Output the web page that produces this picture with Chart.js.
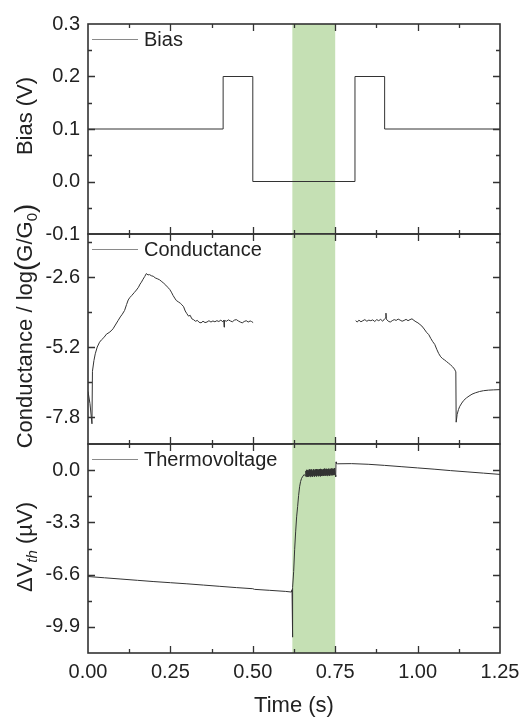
<!DOCTYPE html>
<html>
<head>
<meta charset="utf-8">
<title>Bias, conductance and thermovoltage vs time</title>
<script src="https://cdn.jsdelivr.net/npm/chart.js@4.4.1/dist/chart.umd.min.js"></script>
<style>
    html, body { margin: 0; padding: 0; background: #fff; }
    #wrap { position: relative; width: 524px; height: 720px; }
    #wrap canvas { position: absolute; left: 0; top: 0; }
</style>
</head>
<body>
<div id="wrap">
    <canvas id="biasChart" width="524" height="720"></canvas>
    <canvas id="condChart" width="524" height="720"></canvas>
    <canvas id="thermoChart" width="524" height="720"></canvas>
</div>
<script>
/// ==== Data ==== ///
const timeTicks = [0, 0.25, 0.5, 0.75, 1.0, 1.25];
const heatBand = [0.62, 0.75];

const biasTime = [0, 0.41, 0.5, 0.81, 0.9, 1.25];
const biasVolt = [0.1, 0.2, 0.0, 0.2, 0.1, 0.1];
const biasTicks = [-0.1, 0.0, 0.1, 0.2, 0.3];

const condTime = [
    0, 0.006, 0.012, 0.0135, 0.018, 0.022, 0.028, 0.035, 0.041, 0.048, 0.056, 0.064, 0.070, 0.076,
    0.083, 0.091, 0.098, 0.104, 0.111, 0.117, 0.122, 0.127, 0.133, 0.140, 0.147, 0.153, 0.158, 0.162,
    0.167, 0.172, 0.177, 0.182, 0.187, 0.192, 0.198, 0.204, 0.210, 0.217, 0.224, 0.230, 0.236, 0.242,
    0.248, 0.253, 0.258, 0.263, 0.268, 0.274, 0.280, 0.285, 0.290, 0.295, 0.300, 0.305, 0.310, 0.315,
    0.320, 0.326, 0.332, 0.337, 0.343, 0.349, 0.355, 0.361, 0.367, 0.373, 0.379, 0.385, 0.391, 0.397,
    0.403, 0.409, 0.412, 0.413, 0.414, 0.420, 0.426, 0.432, 0.438, 0.444, 0.450, 0.456, 0.462, 0.468,
    0.474, 0.480, 0.486, 0.492, 0.496, 0.501,
    0.65,
    0.812, 0.817, 0.822, 0.828, 0.834, 0.840, 0.846, 0.852, 0.858, 0.864, 0.870, 0.876, 0.882, 0.888,
    0.894, 0.900, 0.903, 0.904, 0.905, 0.911, 0.917, 0.923, 0.929, 0.935, 0.941, 0.947, 0.953, 0.959,
    0.965, 0.971, 0.977, 0.983, 0.989, 0.995, 1.001, 1.007, 1.013, 1.020, 1.027, 1.034, 1.040, 1.046,
    1.052, 1.058, 1.064, 1.070, 1.076, 1.082, 1.088, 1.094, 1.100, 1.106, 1.112, 1.116, 1.117, 1.120,
    1.124, 1.128, 1.134, 1.140, 1.148, 1.156, 1.165, 1.175, 1.188, 1.200, 1.215, 1.230, 1.250
];
const condLog = [
    -6.85, -7.30, -8.05, -6.10, -5.70, -5.45, -5.20, -5.02, -4.93, -4.85, -4.72, -4.66, -4.60, -4.52,
    -4.38, -4.22, -4.08, -3.98, -3.84, -3.62, -3.45, -3.36, -3.28, -3.18, -3.08, -2.98, -2.86, -2.79,
    -2.68, -2.58, -2.47, -2.52, -2.51, -2.55, -2.57, -2.63, -2.66, -2.70, -2.77, -2.83, -2.90, -2.98,
    -3.06, -3.16, -3.28, -3.38, -3.47, -3.52, -3.57, -3.63, -3.70, -3.86, -3.96, -4.05, -4.02, -4.15,
    -4.18, -4.24, -4.21, -4.28, -4.30, -4.24, -4.29, -4.27, -4.22, -4.27, -4.23, -4.26, -4.22, -4.25,
    -4.20, -4.26, -4.20, -4.46, -4.21, -4.24, -4.19, -4.23, -4.26, -4.20, -4.18, -4.23, -4.27, -4.30,
    -4.25, -4.22, -4.27, -4.23, -4.25, -4.29,
    null,
    -4.22, -4.27, -4.20, -4.26, -4.22, -4.18, -4.24, -4.20, -4.22, -4.19, -4.25, -4.18, -4.22, -4.17,
    -4.24, -4.15, -4.12, -3.94, -4.16, -4.24, -4.27, -4.22, -4.18, -4.21, -4.16, -4.20, -4.24, -4.21,
    -4.17, -4.22, -4.18, -4.15, -4.21, -4.26, -4.30, -4.36, -4.42, -4.53, -4.65, -4.74, -4.88, -5.00,
    -5.10, -5.28, -5.44, -5.56, -5.63, -5.68, -5.74, -5.80, -5.86, -5.93, -6.02, -6.12, -7.99, -7.70,
    -7.52, -7.40, -7.28, -7.18, -7.09, -7.02, -6.95, -6.90, -6.85, -6.82, -6.80, -6.79, -6.78
];
const condTicks = [-2.6, -5.2, -7.8];

const thermoTime = [
    0, 0.05, 0.10, 0.15, 0.20, 0.25, 0.30, 0.35, 0.40, 0.45, 0.50, 0.505, 0.55, 0.60, 0.617,
    0.619, 0.620, 0.6215, 0.624, 0.627, 0.630, 0.633, 0.636, 0.639, 0.642, 0.645, 0.648, 0.652, 0.656,
    0.660, 0.661, 0.662, 0.663, 0.664, 0.665, 0.666, 0.667, 0.668, 0.669,
    0.670, 0.671, 0.672, 0.673, 0.674, 0.675, 0.676, 0.677, 0.678, 0.679,
    0.680, 0.681, 0.682, 0.683, 0.684, 0.685, 0.686, 0.687, 0.688, 0.689,
    0.690, 0.691, 0.692, 0.693, 0.694, 0.695, 0.696, 0.697, 0.698, 0.699,
    0.700, 0.701, 0.702, 0.703, 0.704, 0.705, 0.706, 0.707, 0.708, 0.709,
    0.710, 0.711, 0.712, 0.713, 0.714, 0.715, 0.716, 0.717, 0.718, 0.719,
    0.720, 0.721, 0.722, 0.723, 0.724, 0.725, 0.726, 0.727, 0.728, 0.729,
    0.730, 0.731, 0.732, 0.733, 0.734, 0.735, 0.736, 0.737, 0.738, 0.739,
    0.740, 0.741, 0.742, 0.743, 0.744, 0.745, 0.746, 0.747, 0.748, 0.749,
    0.750,
    0.7515, 0.7525, 0.754, 0.757, 0.80, 0.85, 0.90, 0.95, 1.00, 1.05, 1.10, 1.15, 1.20, 1.25
];
const thermoVolt = [
    -6.72, -6.80, -6.88, -6.96, -7.04, -7.11, -7.18, -7.26, -7.34, -7.42, -7.49, -7.53, -7.59, -7.66, -7.70,
    -7.55, -10.55, -7.40, -6.40, -5.00, -3.90, -2.95, -2.30, -1.60, -1.05, -0.72, -0.52, -0.38, -0.28,
    -0.38, -0.05, -0.41, 0.02, -0.36, -0.08, -0.43, 0.01, -0.35, -0.03,
    -0.40, 0.04, -0.37, -0.06, -0.42, 0.03, -0.33, -0.01, -0.39, 0.05,
    -0.36, -0.04, -0.41, 0.02, -0.34, 0.06, -0.38, -0.02, -0.40, 0.04,
    -0.35, 0.01, -0.37, 0.07, -0.39, -0.03, -0.33, 0.05, -0.38, 0.02,
    -0.36, 0.06, -0.34, -0.01, -0.39, 0.08, -0.32, 0.03, -0.37, 0.05,
    -0.35, 0.00, -0.31, 0.07, -0.36, 0.04, -0.33, 0.09, -0.35, 0.02,
    -0.30, 0.06, -0.34, 0.08, -0.32, 0.03, -0.36, 0.07, -0.29, 0.05,
    -0.33, 0.10, -0.31, 0.04, -0.35, 0.08, -0.28, 0.06, -0.32, 0.11,
    -0.30, 0.05, -0.33, 0.09, -0.27, 0.07, -0.31, 0.12, -0.29, 0.06,
    -0.30,
    -0.42, 0.52, 0.42, 0.40, 0.41, 0.37, 0.30, 0.22, 0.14, 0.06, -0.03, -0.11, -0.19, -0.27
];
const thermoTicks = [0.0, -3.3, -6.6, -9.9];

/// ==== Shared look ==== ///
const FONT = "'Liberation Sans', Arial, sans-serif";
const INK = '#222';
const LINE = '#333';
Chart.defaults.font.family = FONT;
Chart.defaults.color = INK;

const toPoints = (xs, ys) => xs.map((x, i) => ({ x: x, y: ys[i] }));

// draws a rotated axis title made of runs (plain, italic, subscript, big brackets)
function drawRichTitle(ctx, runs, cx, cy) {
    ctx.save();
    ctx.translate(cx, cy);
    ctx.rotate(-Math.PI / 2);
    ctx.fillStyle = INK;
    ctx.textBaseline = 'alphabetic';
    let total = 0;
    runs.forEach(r => {
        ctx.font = (r.italic ? 'italic ' : '') + (r.size || 22) + 'px ' + FONT;
        r.w = ctx.measureText(r.t).width;
        total += r.w;
    });
    let x = -total / 2;
    runs.forEach(r => {
        ctx.font = (r.italic ? 'italic ' : '') + (r.size || 22) + 'px ' + FONT;
        ctx.fillText(r.t, x, 8 + (r.dy || 0));
        x += r.w;
    });
    ctx.restore();
}

/// ==== Panel plugin: green band, frame, inward ticks, legend, y title ==== ///
const panelPlugin = {
    id: 'panel',
    beforeDatasetsDraw(chart) {
        const { ctx, chartArea: a, scales: { x } } = chart;
        const x0 = x.getPixelForValue(heatBand[0]);
        const x1 = x.getPixelForValue(heatBand[1]);
        ctx.save();
        ctx.fillStyle = '#c5e0b4';
        ctx.fillRect(x0, a.top, x1 - x0, a.bottom - a.top);
        ctx.restore();
    },
    afterDatasetsDraw(chart, args, opts) {
        const { ctx, chartArea: a, scales: { x, y } } = chart;
        ctx.save();
        ctx.strokeStyle = LINE;
        ctx.lineWidth = 1.3;
        ctx.beginPath();

        // x ticks on top and bottom edge
        const xStep = timeTicks[1] - timeTicks[0];
        timeTicks.forEach(v => {
            [[v, 7], [v + xStep / 2, 4]].forEach(([t, len]) => {
                if (t <= x.min || t >= x.max) return;
                const px = Math.round(x.getPixelForValue(t)) + 0.5;
                ctx.moveTo(px, a.top); ctx.lineTo(px, a.top + len);
                ctx.moveTo(px, a.bottom); ctx.lineTo(px, a.bottom - len);
            });
        });

        // y ticks on left and right edge
        const yt = opts.yTicks;
        const yStep = yt[1] - yt[0];
        const lo = Math.min(y.min, y.max), hi = Math.max(y.min, y.max);
        yt.forEach(v => {
            [[v, 7], [v + yStep / 2, 4], [v - yStep / 2, 4]].forEach(([t, len]) => {
                if (t <= lo + 1e-9 || t >= hi - 1e-9) return;
                const py = Math.round(y.getPixelForValue(t)) + 0.5;
                ctx.moveTo(a.left, py); ctx.lineTo(a.left + len, py);
                ctx.moveTo(a.right, py); ctx.lineTo(a.right - len, py);
            });
        });
        ctx.stroke();

        // frame
        ctx.lineWidth = 1.6;
        ctx.strokeRect(a.left, a.top, a.right - a.left, a.bottom - a.top);

        // legend entry
        const ds = chart.data.datasets[0];
        const ly = a.top + 15.5;
        ctx.strokeStyle = '#8a8a8a';
        ctx.lineWidth = 1;
        ctx.beginPath();
        ctx.moveTo(a.left + 4, ly); ctx.lineTo(a.left + 50, ly);
        ctx.stroke();
        ctx.fillStyle = INK;
        ctx.font = '20px ' + FONT;
        ctx.textBaseline = 'middle';
        ctx.textAlign = 'left';
        ctx.fillText(ds.label, a.left + 56, ly + 1);
        ctx.restore();

        drawRichTitle(ctx, opts.title, opts.titleX, opts.titleY);
    }
};

/// ==== Chart factory ==== ///
function makePanel(id, cfg) {
    const showX = !!cfg.showX;
    return new Chart(document.getElementById(id), {
        type: 'line',
        data: {
            datasets: [{
                label: cfg.label,
                data: cfg.points,
                borderColor: LINE,
                borderWidth: 1,
                pointRadius: 0,
                stepped: cfg.stepped || false,
                tension: 0,
                spanGaps: false
            }]
        },
        options: {
            responsive: false,
            animation: false,
            devicePixelRatio: 1,
            events: [],
            layout: {
                padding: { left: 28, right: 24, top: cfg.top, bottom: showX ? 0 : 720 - cfg.bottom }
            },
            scales: {
                x: {
                    type: 'linear',
                    min: 0,
                    max: 1.25,
                    display: showX,
                    afterFit: s => {
                        s.height = showX ? 720 - cfg.bottom : 0;
                        s.paddingLeft = 0;
                        s.paddingRight = 0;
                    },
                    afterBuildTicks: s => { s.ticks = timeTicks.map(v => ({ value: v })); },
                    ticks: {
                        font: { size: 20 },
                        color: INK,
                        padding: 7,
                        maxRotation: 0,
                        autoSkip: false,
                        callback: v => Number(v).toFixed(2)
                    },
                    grid: { display: false, drawTicks: false },
                    border: { display: false },
                    title: {
                        display: showX,
                        text: 'Time (s)',
                        font: { size: 22 },
                        color: INK,
                        padding: { top: 0, bottom: 1 }
                    }
                },
                y: {
                    type: 'linear',
                    min: cfg.yMin,
                    max: cfg.yMax,
                    afterFit: s => { s.width = 60; s.paddingTop = 0; s.paddingBottom = 0; },
                    afterBuildTicks: s => { s.ticks = cfg.yTicks.map(v => ({ value: v })); },
                    ticks: {
                        font: { size: 20 },
                        color: INK,
                        padding: 8,
                        callback: v => Number(v).toFixed(1)
                    },
                    grid: { display: false, drawTicks: false },
                    border: { display: false }
                }
            },
            plugins: {
                legend: { display: false },
                tooltip: { enabled: false },
                panel: {
                    yTicks: cfg.yTicks,
                    title: cfg.title,
                    titleX: 24,
                    titleY: cfg.titleY
                }
            }
        },
        plugins: [panelPlugin]
    });
}

makePanel('biasChart', {
    label: 'Bias',
    points: toPoints(biasTime, biasVolt),
    stepped: 'before',
    top: 24, bottom: 234,
    yMin: -0.1, yMax: 0.3, yTicks: biasTicks,
    title: [{ t: 'Bias (V)' }],
    titleY: 116
});

makePanel('condChart', {
    label: 'Conductance',
    points: toPoints(condTime, condLog),
    top: 234, bottom: 444,
    yMin: -8.8, yMax: -1.0, yTicks: condTicks,
    title: [
        { t: 'Conductance / log' },
        { t: '(', size: 28, dy: 2 },
        { t: 'G/G' },
        { t: '0', size: 15, dy: 5 },
        { t: ')', size: 28, dy: 2 }
    ],
    titleY: 326
});

makePanel('thermoChart', {
    label: 'Thermovoltage',
    points: toPoints(thermoTime, thermoVolt),
    showX: true,
    top: 444, bottom: 653,
    yMin: -11.55, yMax: 1.65, yTicks: thermoTicks,
    title: [
        { t: '\u0394V' },
        { t: 'th', size: 15, dy: 5, italic: true },
        { t: ' (\u00b5V)' }
    ],
    titleY: 547
});
</script>
</body>
</html>
